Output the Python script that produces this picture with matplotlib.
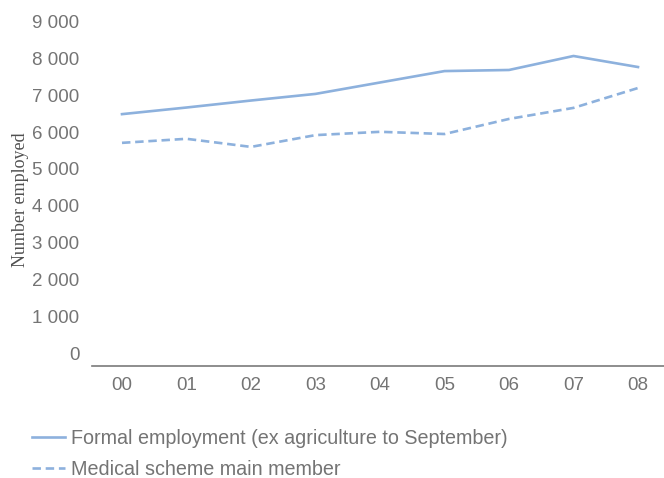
import matplotlib
matplotlib.use('Agg')
import matplotlib.pyplot as plt
from matplotlib.ticker import FuncFormatter

years = ['00', '01', '02', '03', '04', '05', '06', '07', '08']
formal = [6490, 6670, 6860, 7040, 7350, 7660, 7690, 8070, 7770]
medical = [5710, 5820, 5600, 5920, 6010, 5950, 6360, 6660, 7200]
y_ticks = [0, 1000, 2000, 3000, 4000, 5000, 6000, 7000, 8000, 9000]
series_names = ['Formal employment (ex agriculture to September)',
                'Medical scheme main member']

BLUE = '#8db1dd'
GREY = '#747474'
plt.rcParams['font.family'] = ['Liberation Sans', 'DejaVu Sans']

fig = plt.figure(figsize=(6.64, 4.78), dpi=100)
ax = fig.add_axes([92 / 664, 1 - 366 / 478, 1 - 92 / 664, (366 - 14.4) / 478])

x = list(range(len(years)))
ax.plot(x, formal, color=BLUE, lw=1.9, label=series_names[0])
ax.plot(x, medical, color=BLUE, lw=1.9, dashes=(3.2, 1.8), label=series_names[1])

ax.set_xlim(-0.465, 8.403)
ax.set_ylim(-353, 9200)
ax.set_xticks(x)
ax.set_xticklabels(years)
ax.set_yticks(y_ticks)
ax.yaxis.set_major_formatter(FuncFormatter(lambda v, p: f'{int(v):,}'.replace(',', ' ')))

for s in ['top', 'right', 'left']:
    ax.spines[s].set_visible(False)
ax.spines['bottom'].set_color('#7a7a7a')
ax.spines['bottom'].set_linewidth(1.2)
ax.tick_params(axis='both', length=0, labelsize=13.5, labelcolor=GREY)
ax.tick_params(axis='y', pad=9)
ax.tick_params(axis='x', pad=8)

ax.set_ylabel('Number employed', family='Liberation Serif', fontsize=13,
              color='#505050')
ax.yaxis.set_label_coords(-0.11, 0.474)

leg = fig.legend(loc='upper left', bbox_to_anchor=(24 / 664, 1 - 421 / 478),
                 frameon=False, fontsize=14.2, handlelength=1.7,
                 handletextpad=0.3, labelspacing=0.6, borderaxespad=0)
for t in leg.get_texts():
    t.set_color(GREY)

fig.savefig('out.png', dpi=100)
